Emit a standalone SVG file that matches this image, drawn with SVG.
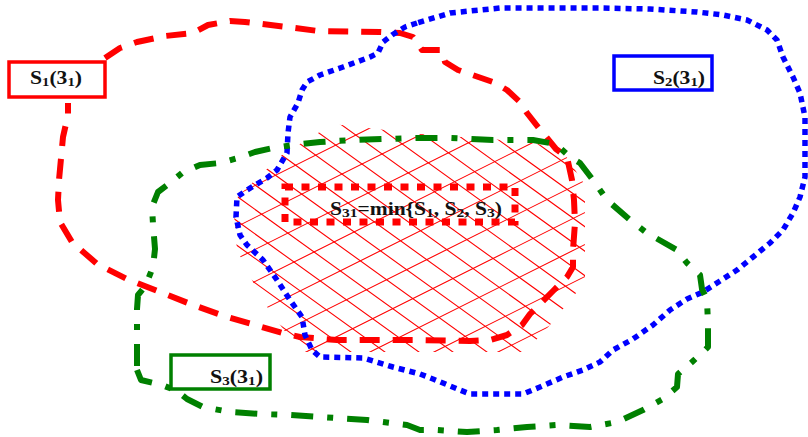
<svg xmlns="http://www.w3.org/2000/svg" width="808" height="437" viewBox="0 0 808 437">
<style>
  .s1 { fill: none; stroke: #ff0000; stroke-width: 6; stroke-dasharray: 20 13; stroke-linejoin: round; }
  .s2 { fill: none; stroke: #0000ff; stroke-width: 5.5; stroke-dasharray: 6 5; stroke-linejoin: round; }
  .s3 { fill: none; stroke: #008000; stroke-width: 6; stroke-dasharray: 22 14 6 14; stroke-linejoin: round; }
  .hatch { fill: none; stroke: #ff0000; stroke-width: 1.1; }
  .box { fill: #ffffff; stroke-width: 3.5; }
  .lbl { font-family: "Liberation Serif", "Times New Roman", serif; font-weight: bold; fill: #111111; }
</style>
<defs>
  <clipPath id="hclip">
    <polygon points="283,154 333,124 420,134 530,142 562,150 585,185 585,282 550,325 525,352 300,352 262,300 237,250 234,215 238,196"/>
  </clipPath>
</defs>
<rect width="808" height="437" fill="#ffffff"/>

<g id="intersection-hatch" clip-path="url(#hclip)">
  <path class="hatch" d="M-53 110L294 360M-19 110L328 360M15 110L362 360M49 110L396 360M83 110L430 360M117 110L464 360M151 110L498 360M185 110L532 360M219 110L566 360M253 110L600 360M287 110L634 360M321 110L668 360M355 110L702 360M389 110L736 360M423 110L770 360M457 110L804 360M491 110L838 360M525 110L872 360M559 110L906 360"/>
  <path class="hatch" d="M220 171L600 -19M220 203L600 13M220 235L600 45M220 267L600 77M220 299L600 109M220 331L600 141M220 363L600 173M220 395L600 205M220 427L600 237M220 459L600 269M220 491L600 301M220 523L600 333"/>
</g>

<g id="connectors">
  <path id="curve-S1" class="s1" d="M105 58 L120 48 L137 42 L165 36 L193 33 L208 25 L230 21 L245 22 L287 27 L318 31 L380 32 L400 33 L413 37 L422 50 L442 50 L445 62 L458 70 L493 82 L507 90 L520 102 L527 113 L538 127 L547 138 L556 149 L567 157 L572 180 L574 200 L575 223 L573 250 L573 267 L567 277 L553 291 L540 304 L530 314 L522 325 L507 335 L490 340 L470 341 L413 340 L337 340 L300 337 L283 333 L227 317 L193 305 L160 292 L127 279 L97 264 L72 242 L60 222 L58 200 L59 180 L63 137 L68 115 L68 103"/>
  <path id="curve-S2" class="s2" d="M417 23 L405 27 L392 35 L383 42 L378 53 L370 57 L343 67 L320 75 L307 82 L302 90 L298 103 L290 117 L288 133 L287 153 L277 170 L267 178 L247 190 L237 197 L236 217 L240 235 L247 245 L263 260 L277 280 L290 300 L302 317 L305 335 L312 350 L320 357 L363 358 L393 367 L420 374 L433 379 L460 390 L470 394 L523 394 L540 387 L563 377 L583 370 L600 362 L613 350 L633 339 L653 325 L670 310 L687 299 L703 292 L720 281 L737 270 L753 257 L770 243 L783 230 L793 213 L800 197 L805 177 L805 150 L805 117 L800 93 L793 77 L783 57 L777 40 L767 30 L747 20 L723 15 L697 12 L650 9 L600 8 L500 8 L450 13 L427 20 Z"/>
  <path id="curve-S3" class="s3" d="M137 370 L141 380 L162 385 L177 391 L187 399 L203 407 L230 412 L260 414 L290 415 L320 417 L367 420 L407 425 L420 430 L437 430 L467 432 L497 430 L527 427 L557 425 L590 427 L617 422 L643 410 L663 399 L677 387 L678 374 L692 362 L703 352 L708 347 L708 324 L707 300 L702 289 L700 275 L687 263 L677 250 L647 233 L630 220 L607 200 L593 180 L580 163 L570 157 L560 148 L550 143 L533 140 L493 140 L450 138 L417 138 L353 140 L320 142 L293 145 L273 148 L255 152 L238 158 L220 163 L200 165 L182 173 L170 183 L158 192 L152 207 L153 224 L155 249 L153 267 L147 282 L143 289 L138 295 L137 309 L137 323 L137 350 Z"/>
</g>

<g id="node-S1">
  <rect class="box" x="9" y="62" width="96" height="35" stroke="#ff0000"/>
  <text class="lbl" x="30" y="84" font-size="19" textLength="52" lengthAdjust="spacingAndGlyphs">S<tspan font-size="13" dy="2">1</tspan><tspan dy="-2">(3</tspan><tspan font-size="13" dy="2">1</tspan><tspan dy="-2">)</tspan></text>
</g>

<g id="node-S2">
  <rect class="box" x="614" y="56" width="98" height="34" stroke="#0000ff"/>
  <text class="lbl" x="653" y="84" font-size="19" textLength="52" lengthAdjust="spacingAndGlyphs">S<tspan font-size="13" dy="2">2</tspan><tspan dy="-2">(3</tspan><tspan font-size="13" dy="2">1</tspan><tspan dy="-2">)</tspan></text>
</g>

<g id="node-S3">
  <rect class="box" x="171" y="355" width="99" height="34" stroke="#008000"/>
  <text class="lbl" x="210" y="383" font-size="19" textLength="53" lengthAdjust="spacingAndGlyphs">S<tspan font-size="13" dy="2">3</tspan><tspan dy="-2">(3</tspan><tspan font-size="13" dy="2">1</tspan><tspan dy="-2">)</tspan></text>
</g>

<g id="node-S31">
  <rect x="285" y="187" width="230" height="35" fill="none" stroke="#ff0000" stroke-width="7" stroke-dasharray="8 8.5"/>
  <text class="lbl" x="330" y="215" font-size="18" textLength="172" lengthAdjust="spacingAndGlyphs">S<tspan font-size="13" dy="2">31</tspan><tspan dy="-2">=min{S</tspan><tspan font-size="13" dy="2">1</tspan><tspan dy="-2">, S</tspan><tspan font-size="13" dy="2">2</tspan><tspan dy="-2">, S</tspan><tspan font-size="13" dy="2">3</tspan><tspan dy="-2">)</tspan></text>
</g>
</svg>
